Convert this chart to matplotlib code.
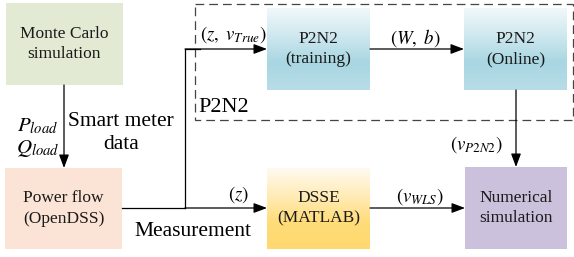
import numpy as np
import matplotlib
matplotlib.use('Agg')
import matplotlib.pyplot as plt
from matplotlib.colors import LinearSegmentedColormap
from matplotlib.patches import Rectangle

plt.rcParams['font.family'] = ['Liberation Serif', 'DejaVu Serif']
plt.rcParams['mathtext.fontset'] = 'stix'

# block texts
mc_label = 'Monte Carlo\nsimulation'
pf_label = 'Power flow\n(OpenDSS)'
train_label = 'P2N2\n(training)'
online_label = 'P2N2\n(Online)'
dsse_label = 'DSSE\n(MATLAB)'
num_label = 'Numerical\nsimulation'
# edge texts
load_label = '$P_{load}$\n$Q_{load}$'
meter_label = 'Smart meter\ndata'
meas_label = 'Measurement'
z_true_label = r'$(z,\ v_{True})$'
wb_label = r'$(W,\ b)$'
z_label = r'$(z)$'
wls_label = r'$(v_{WLS})$'
p2n2_out_label = r'$(v_{P2N2})$'
group_label = 'P2N2'

fig = plt.figure(figsize=(5.74, 2.57), dpi=100)
ax = fig.add_axes([0, 0, 1, 1])
ax.set_xlim(0, 574)
ax.set_ylim(257, 0)
ax.axis('off')


def flat_box(x0, y0, x1, y1, color, text):
    ax.add_patch(Rectangle((x0, y0), x1 - x0, y1 - y0, facecolor=color, edgecolor='none', zorder=2))
    ax.text((x0 + x1) / 2, (y0 + y1) / 2, text, ha='center', va='center', fontsize=12.5,
            linespacing=1.35, color='#1a1a1a', zorder=3)


def grad_box(x0, y0, x1, y1, colors, text):
    cmap = LinearSegmentedColormap.from_list('g', colors)
    grad = np.linspace(0, 1, 100).reshape(-1, 1)
    ax.imshow(grad, cmap=cmap, extent=(x0, x1, y1, y0), aspect='auto', zorder=2, interpolation='bilinear')
    ax.text((x0 + x1) / 2, (y0 + y1) / 2, text, ha='center', va='center', fontsize=12.5,
            linespacing=1.35, color='#1a1a1a', zorder=3)


def arrow(x0, y0, x1, y1):
    ax.annotate('', xy=(x1, y1), xytext=(x0, y0),
                arrowprops=dict(arrowstyle='-|>,head_length=0.8,head_width=0.3', color='black',
                                lw=0.9, shrinkA=0, shrinkB=0), zorder=4)


flat_box(6, 3, 123, 85, '#e3ead4', mc_label)
flat_box(5, 168, 122, 249, '#fbe4d6', pf_label)
grad_box(267, 8, 370, 90, ['#f0f8fa', '#cfe8ef', '#a8d6e2', '#b8dde7'], train_label)
grad_box(464, 8, 567, 90, ['#f0f8fa', '#cfe8ef', '#a8d6e2', '#b8dde7'], online_label)
grad_box(267, 168, 370, 249, ['#fffaf0', '#ffecb8', '#ffdc7a', '#ffd96e'], dsse_label)
flat_box(465, 167, 567, 249, '#cbc1dc', num_label)

# dashed group box
ax.add_patch(Rectangle((195, 4), 378, 116, fill=False, edgecolor='#444444', lw=0.9,
                       linestyle=(0, (7, 4)), zorder=1))
ax.text(198, 107, group_label, ha='left', va='center', fontsize=16)

# connections
arrow(64, 85, 64, 168)
ax.plot([122, 185], [208, 208], color='black', lw=0.9, zorder=4)
ax.plot([185, 185, 200], [208, 49, 49], color='black', lw=0.9, zorder=4)
arrow(185, 49, 267, 49)
arrow(185, 208, 267, 208)
arrow(370, 49, 464, 49)
arrow(370, 208, 465, 208)
arrow(516, 90, 516, 167)

ax.text(38, 138, load_label, ha='center', va='center', fontsize=15, linespacing=1.1)
ax.text(121, 133, meter_label, ha='center', va='center', fontsize=15.5, linespacing=1.3)
ax.text(193, 232, meas_label, ha='center', va='center', fontsize=15.5)
ax.text(233, 35, z_true_label, ha='center', va='center', fontsize=13.5)
ax.text(415, 38, wb_label, ha='center', va='center', fontsize=13.5)
ax.text(238, 195, z_label, ha='center', va='center', fontsize=13.5)
ax.text(420, 197, wls_label, ha='center', va='center', fontsize=13.5)
ax.text(476, 145, p2n2_out_label, ha='center', va='center', fontsize=13.5)

fig.savefig('out.png', dpi=100)
